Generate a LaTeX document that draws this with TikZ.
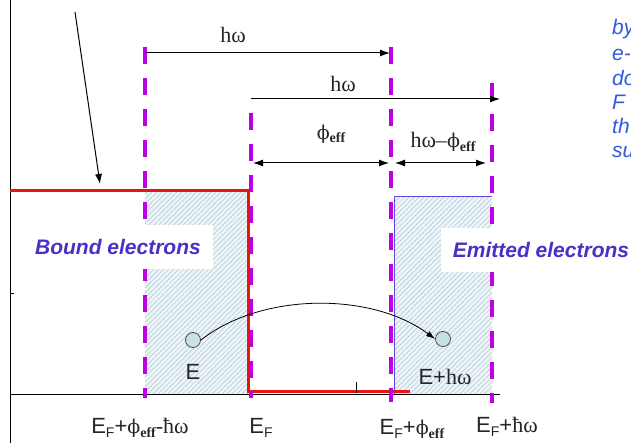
\documentclass[tikz,border=0pt]{standalone}
\usepackage{fontspec}
\setmainfont{Liberation Serif}
\setsansfont{Liberation Sans}
\newfontfamily\phifont{DejaVu Serif}
\usetikzlibrary{arrows.meta,patterns.meta}
\definecolor{mag}{RGB}{190,0,230}
\definecolor{redl}{RGB}{230,20,20}
\definecolor{lblue}{RGB}{70,50,200}
\definecolor{tblue}{RGB}{50,90,220}
\definecolor{hatchc}{RGB}{175,195,206}
\definecolor{hatchbg}{RGB}{236,245,249}
\definecolor{boxc}{RGB}{100,70,230}
\definecolor{elecfill}{RGB}{200,225,232}
\newcommand{\mysub}[1]{\raisebox{-0.35ex}{\fontsize{14}{14}\selectfont #1}}
\newcommand{\myphi}{{\phifont\fontsize{19}{22}\selectfont ϕ}}
\begin{document}
\begin{tikzpicture}[x=1pt,y=-1pt,
  vdash/.style={mag,line width=4pt,dash pattern=on 17pt off 14pt},
  dim/.style={-{Latex[length=10pt,width=7pt]},line width=1pt},
  ddim/.style={{Latex[length=10pt,width=7pt]}-{Latex[length=10pt,width=7pt]},line width=1pt},
  hatch/.style={pattern={Lines[angle=45,distance=3.5pt,line width=0.5pt]},pattern color=hatchc},
  serlab/.style={font=\fontsize{22}{26}\selectfont,text=black!85,inner sep=1pt},
  elab/.style={font=\sffamily\bfseries\itshape\fontsize{21}{25}\selectfont,text=lblue,fill=white,inner xsep=12pt,inner ysep=14pt},
  sidet/.style={font=\sffamily\itshape\fontsize{21}{25}\selectfont,text=tblue,anchor=base west,inner sep=0pt},
  elec/.style={circle,draw=black!70,fill=elecfill,minimum size=15pt,inner sep=0pt,line width=0.8pt},
  ]
\useasboundingbox (0,0) rectangle (631,443);
\clip (0,0) rectangle (631,443);
\fill[white] (0,0) rectangle (631,443);
% shaded regions
\fill[hatchbg] (145,192) rectangle (248,394);
\fill[hatch] (145,192) rectangle (248,394);
\fill[hatchbg] (394,197) rectangle (492,394);
\fill[hatch] (394,197) rectangle (492,394);
\draw[boxc,line width=1pt] (492,197) -- (394,197) -- (394,394) -- (492,394);
% axes
\coordinate (ytop) at (10,0);
\coordinate (ybot) at (10,443);
\coordinate (xl) at (10,394);
\coordinate (xr) at (500,394);
\draw[line width=1pt] (ytop) -- (ybot);
\draw[line width=1pt] (xl) -- (xr);
\coordinate (t1a) at (10,293); \coordinate (t1b) at (14,293);
\draw[line width=0.8pt] (t1a) -- (t1b);
% red occupation line
\coordinate (r1) at (10,191);
\coordinate (r2) at (248,191);
\coordinate (r3) at (248,391);
\coordinate (r4) at (410,391);
\draw[redl,line width=3pt] (r1) -- (r2) -- (r3) -- (r4);
\coordinate (t2a) at (356,382); \coordinate (t2b) at (356,393);
\draw[line width=0.8pt] (t2a) -- (t2b);
% dashed levels
\coordinate (d1t) at (145,47);  \coordinate (d1b) at (145,398);
\coordinate (d2t) at (251,113); \coordinate (d2b) at (251,398);
\coordinate (d3t) at (391,47);  \coordinate (d3b) at (391,402);
\coordinate (d4t) at (492,83);  \coordinate (d4b) at (492,403);
\draw[vdash] (d1t) -- (d1b);
\draw[vdash] (d2t) -- (d2b);
\draw[vdash] (d3t) -- (d3b);
\draw[vdash] (d4t) -- (d4b);
% dimension arrows
\coordinate (a1s) at (145,53);  \coordinate (a1e) at (390,53);
\coordinate (a2s) at (251,99);  \coordinate (a2e) at (500,99);
\coordinate (a3s) at (253,163); \coordinate (a3e) at (389,163);
\coordinate (a4s) at (395,163); \coordinate (a4e) at (486,163);
\draw[dim] (a1s) -- (a1e);
\draw[dim] (a2s) -- (a2e);
\draw[ddim] (a3s) -- (a3e);
\draw[ddim] (a4s) -- (a4e);
\node[serlab] (hw1) at (233,35) {hω};
\node[serlab] (hw2) at (343,84) {hω};
\node[serlab] (phi) at (331,134) {\myphi\mysub{\bfseries eff}};
\node[serlab] (hwphi) at (443,142) {hω–\myphi\mysub{\bfseries eff}};
% diagonal pointer
\coordinate (pa) at (75,12);
\coordinate (pb) at (100,184);
\draw[dim] (pa) -- (pb);
% labels
\node[elab] (bound) at (118,247) {Bound electrons};
\node[elab] (emit) at (541,250) {Emitted electrons};
% electrons
\node[elec] (c1) at (193,340) {};
\node[elec] (c2) at (443,339) {};
\draw[-{Latex[length=9pt,width=6pt]},line width=0.8pt] (c1.east) .. controls (262,292) and (372,292) .. (c2.west);
\node[serlab,font=\sffamily\fontsize{22}{26}\selectfont] (lE) at (193,372) {E};
\node[serlab] (lEh) at (445,377) {\sffamily E+\rmfamily hω};
% bottom axis labels
\node[serlab] (b1) at (140,428) {\sffamily E\mysub{F}+\rmfamily \myphi\mysub{\bfseries eff}-ħω};
\node[serlab] (b2) at (261,428) {\sffamily E\mysub{F}};
\node[serlab] (b3) at (412,429) {\sffamily E\mysub{F}+\rmfamily \myphi\mysub{\bfseries eff}};
\node[serlab] (b4) at (507,427) {\sffamily E\mysub{F}+\rmfamily ħω};
% right side text (cut off at the edge, as in the reference)
\node[sidet] (s1) at (612,35) {by};
\node[sidet] (s2) at (612,61) {e-};
\node[sidet] (s3) at (612,86) {do};
\node[sidet] (s4) at (612,110) {F};
\node[sidet] (s5) at (612,134) {th};
\node[sidet] (s6) at (612,158) {su};
\end{tikzpicture}
\end{document}
